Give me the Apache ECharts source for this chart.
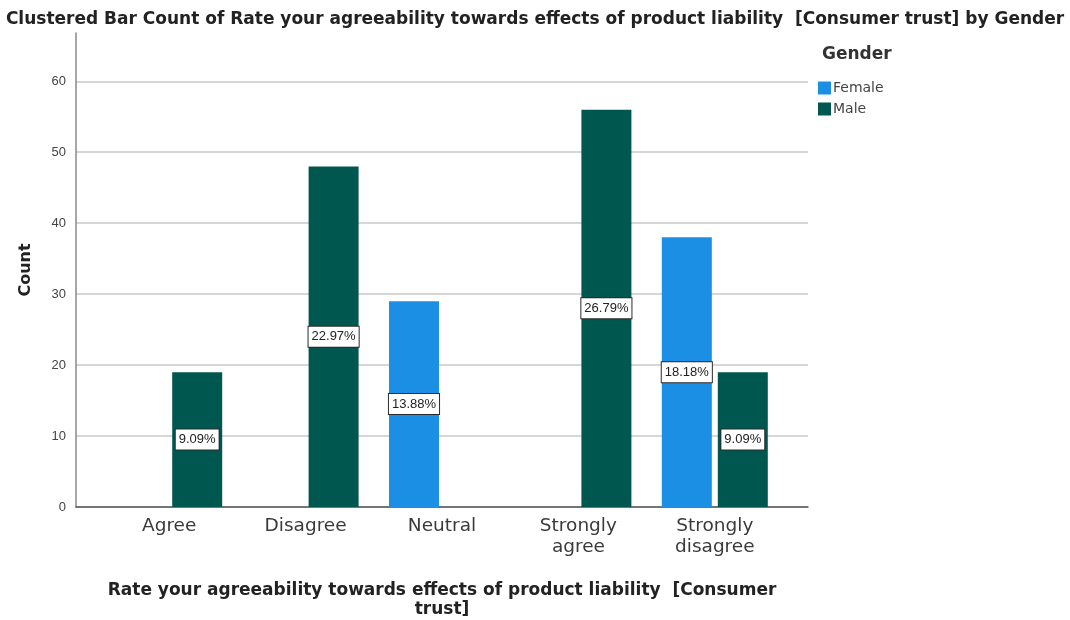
<!DOCTYPE html>
<html>
<head>
<meta charset="utf-8">
<script src="https://cdn.jsdelivr.net/npm/echarts@6/dist/echarts.min.js"></script>
<style>
  html, body { margin: 0; padding: 0; background: #fff; }
  #chart { width: 1070px; height: 620px; }
</style>
</head>
<body>
<div id="chart"></div>
<script>
const categories = ['Agree', 'Disagree', 'Neutral', 'Strongly agree', 'Strongly disagree']
const female = [null, null, 29, null, 38]
const male = [19, 48, null, 56, 19]
const yTicks = [0, 10, 20, 30, 40, 50, 60]

const total = female.concat(male).reduce((s, v) => s + (v || 0), 0)
const font = 'Liberation Sans, Arial, sans-serif'
const wide = 'DejaVu Sans, sans-serif'

const pctLabel = {
  show: true,
  position: 'inside',
  formatter: (p) => (p.value / total * 100).toFixed(2) + '%',
  backgroundColor: '#fff',
  borderColor: '#2a2a2a',
  borderWidth: 1,
  padding: [4, 3, 3, 3],
  color: '#222',
  fontSize: 13,
  fontFamily: font,
}

const dom = document.getElementById('chart')
const chart = echarts.init(dom)

let option = {
  animation: false,
  title: [
    {
      text: 'Clustered Bar Count of Rate your agreeability towards effects of product liability  [Consumer trust] by Gender',
      left: 'center',
      top: 6,
      textStyle: { fontFamily: wide, fontSize: 17, fontWeight: 'bold', color: '#222' },
    },
    {
      text: 'Gender',
      left: 817,
      top: 41,
      textStyle: { fontFamily: wide, fontSize: 17, fontWeight: 'bold', color: '#333' },
    },
  ],
  legend: {
    orient: 'vertical',
    left: 813,
    top: 76,
    itemWidth: 13,
    itemHeight: 13,
    itemGap: 7,
    icon: 'rect',
    data: ['Female', 'Male'],
    textStyle: { fontFamily: wide, fontSize: 14, color: '#444', padding: [0, 0, 0, -3] },
  },
  grid: [
    { left: 76, right: 262, top: 33, bottom: 113, outerBoundsMode: 'none', containLabel: false },
    { left: 101, right: 287, top: 33, bottom: 113, outerBoundsMode: 'none', containLabel: false },
  ],
  xAxis: [
    {
      gridIndex: 0,
      type: 'category',
      data: [''],
      axisLine: { lineStyle: { color: '#555', width: 1.5 } },
      axisTick: { show: false },
      axisLabel: { show: false },
      name: 'Rate your agreeability towards effects of product liability  [Consumer\ntrust]',
      nameLocation: 'middle',
      nameGap: 74,
      nameTextStyle: { fontFamily: wide, fontSize: 17, fontWeight: 'bold', color: '#222', lineHeight: 19 },
    },
    {
      gridIndex: 1,
      type: 'category',
      data: categories,
      axisLine: { show: false },
      axisTick: { show: false },
      axisLabel: {
        margin: 9,
        fontFamily: wide,
        fontSize: 18.5,
        color: '#3a3a3a',
        lineHeight: 21,
        formatter: (v) => v.replace('Strongly ', 'Strongly\n'),
      },
    },
  ],
  yAxis: [
    {
      gridIndex: 0,
      type: 'value',
      min: 0,
      max: 66.8,
      interval: 10,
      axisLine: { show: true, lineStyle: { color: '#888', width: 1.5 } },
      axisTick: { show: false },
      splitLine: { showMaxLine: false, lineStyle: { color: '#d6d6d6', width: 2 } },
      axisLabel: {
        showMaxLabel: false,
        margin: 10,
        fontFamily: font,
        fontSize: 13,
        color: '#444',
        formatter: (v) => (yTicks.includes(v) ? String(v) : ''),
      },
      name: 'Count',
      nameLocation: 'middle',
      nameGap: 42,
      nameTextStyle: { fontFamily: wide, fontSize: 16, fontWeight: 'bold', color: '#222' },
    },
    {
      gridIndex: 1,
      type: 'value',
      min: 0,
      max: 66.8,
      show: false,
      splitLine: { show: false },
    },
  ],
  series: [
    {
      name: 'Female',
      type: 'bar',
      xAxisIndex: 1,
      yAxisIndex: 1,
      data: female,
      barWidth: 50,
      barGap: '12%',
      itemStyle: { color: '#1a8fe3' },
      label: pctLabel,
    },
    {
      name: 'Male',
      type: 'bar',
      xAxisIndex: 1,
      yAxisIndex: 1,
      data: male,
      barWidth: 50,
      barGap: '12%',
      itemStyle: { color: '#00574f' },
      label: pctLabel,
    },
  ],
}

chart.setOption(option)
window.addEventListener('resize', () => chart.resize())
</script>
</body>
</html>
